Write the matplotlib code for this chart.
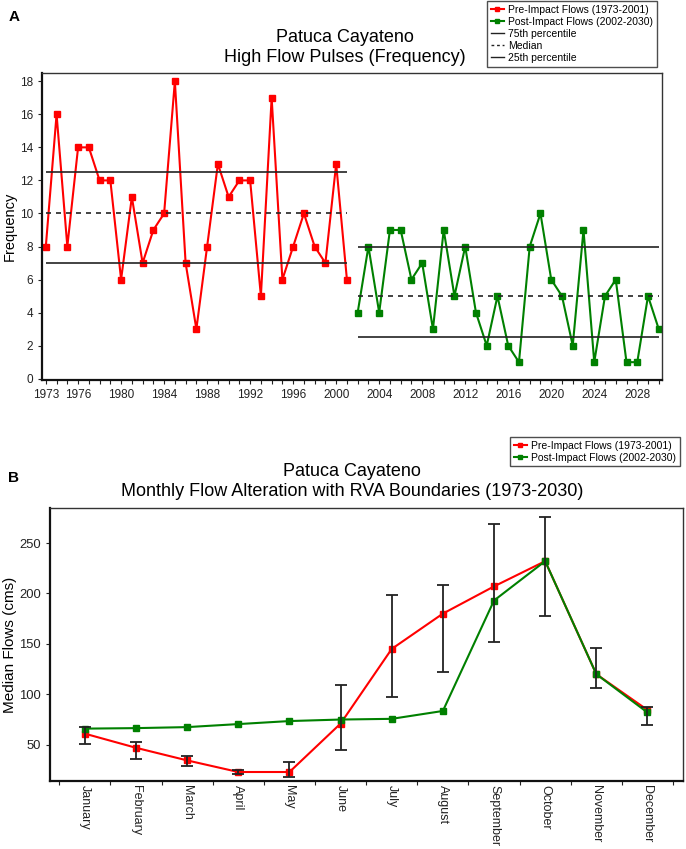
import numpy as np
import matplotlib
matplotlib.use("Agg")
import matplotlib.pyplot as plt
from matplotlib.lines import Line2D

plt.rcParams['font.family'] = ['Liberation Sans', 'DejaVu Sans']

# Panel A data
pre_years = list(range(1973, 2002))
pre_freq = [8, 16, 8, 14, 14, 12, 12, 6, 11, 7, 9, 10, 18, 7, 3, 8, 13, 11, 12, 12,
            5, 17, 6, 8, 10, 8, 7, 13, 6]
post_years = list(range(2002, 2031))
post_freq = [4, 8, 4, 9, 9, 6, 7, 3, 9, 5, 8, 4, 2, 5, 2, 1, 8, 10, 6, 5,
             2, 9, 1, 5, 6, 1, 1, 5, 3]
pre_pct = {'75': 12.5, 'med': 10, '25': 7}
post_pct = {'75': 8, 'med': 5, '25': 2.5}
year_labels = [1973, 1976, 1980, 1984, 1988, 1992, 1996, 2000, 2004, 2008, 2012,
               2016, 2020, 2024, 2028]

# Panel B data
months = ['January', 'February', 'March', 'April', 'May', 'June', 'July',
          'August', 'September', 'October', 'November', 'December']
pre_monthly = [61, 47, 34.5, 23, 23, 71, 145, 180, 207, 232, 120, 84.5]
post_monthly = [66, 66.5, 67.5, 70.5, 73.5, 75, 75.7, 83.5, 193, 232, 120, 82]
rva_low = [50.7, 35.8, 29, 20.6, 17.6, 45, 97, 122.6, 152.3, 177.7, 106, 69.8]
rva_high = [67.5, 52.7, 38.5, 25.2, 32.5, 109.7, 198, 208.7, 269, 275.4, 146.3, 87.3]

RED = '#ff0000'
GREEN = '#008000'

fig = plt.figure(figsize=(6.86, 8.49), dpi=100)


def style_axes(ax, size):
    for s in ['left', 'bottom']:
        ax.spines[s].set_linewidth(1.6)
        ax.spines[s].set_color('#111111')
    for s in ['top', 'right']:
        ax.spines[s].set_linewidth(1.0)
        ax.spines[s].set_color('#333333')
    ax.tick_params(direction='out', length=3, width=0.8, labelsize=size, colors='#222222')


legend_kw = dict(loc='upper right', fontsize=7.5, frameon=True, fancybox=False,
                 edgecolor='#222222', handlelength=1.3, handletextpad=0.4,
                 borderpad=0.35, labelspacing=0.2, borderaxespad=0)

# ---------- Panel A ----------
axA = fig.add_axes([0.061, 0.552, 0.904, 0.362])
axA.plot(pre_years, pre_freq, color=RED, marker='s', markersize=4.5, lw=1.5)
axA.plot(post_years, post_freq, color=GREEN, marker='s', markersize=4.5, lw=1.5)
for yrs, p in [(pre_years, pre_pct), (post_years, post_pct)]:
    axA.hlines(p['75'], yrs[0], yrs[-1], colors='#222222', lw=1.2)
    axA.hlines(p['med'], yrs[0], yrs[-1], colors='#222222', lw=1.2, linestyles=(0, (3, 3)))
    axA.hlines(p['25'], yrs[0], yrs[-1], colors='#222222', lw=1.2)
axA.set_xlim(1972.63, 2030.3)
axA.set_ylim(-0.1, 18.5)
axA.set_yticks(range(0, 19, 2))
axA.set_xticks(year_labels)
axA.set_xticks(range(1973, 2031), minor=True)
axA.set_ylabel('Frequency', fontsize=10.5, labelpad=2)
style_axes(axA, 8.5)
axA.tick_params(axis='x', which='minor', length=3, width=0.8, colors='#222222')

fig.text(345 / 686, 1 - 38 / 849, 'Patuca Cayateno', ha='center', va='center', fontsize=13)
fig.text(345 / 686, 1 - 57 / 849, 'High Flow Pulses (Frequency)', ha='center', va='center', fontsize=13)
fig.text(14 / 686, 1 - 17 / 849, 'A', ha='center', va='center', fontsize=11, fontweight='bold')

handlesA = [
    Line2D([], [], color=RED, marker='s', markersize=3.5, lw=1.5),
    Line2D([], [], color=GREEN, marker='s', markersize=3.5, lw=1.5),
    Line2D([], [], color='#222222', lw=1),
    Line2D([], [], color='#222222', lw=1, ls=(0, (2, 2))),
    Line2D([], [], color='#222222', lw=1),
]
labelsA = ['Pre-Impact Flows (1973-2001)', 'Post-Impact Flows (2002-2030)',
           '75th percentile', 'Median', '25th percentile']
legA = fig.legend(handlesA, labelsA, bbox_to_anchor=(657 / 686, 1 - 1 / 849), **legend_kw)
legA.get_frame().set_linewidth(1.0)

# ---------- Panel B ----------
axB = fig.add_axes([0.073, 0.080, 0.923, 0.322])
x = np.arange(len(months))
axB.plot(x, pre_monthly, color=RED, marker='s', markersize=4.5, lw=1.5, zorder=3)
axB.plot(x, post_monthly, color=GREEN, marker='s', markersize=4.5, lw=1.5, zorder=3)
mid = (np.array(rva_low) + np.array(rva_high)) / 2
err = (np.array(rva_high) - np.array(rva_low)) / 2
axB.errorbar(x, mid, yerr=err, fmt='none', ecolor='#222222', elinewidth=1.3,
             capsize=4, capthick=1.3, zorder=4)
axB.set_xlim(-0.68, 11.7)
axB.set_ylim(14, 285)
axB.set_yticks([50, 100, 150, 200, 250])
axB.set_xticks(x)
axB.set_xticklabels(months, rotation=270)
axB.set_xticks(np.arange(-0.5, 12, 1), minor=True)
axB.set_ylabel('Median Flows (cms)', fontsize=11, labelpad=2)
style_axes(axB, 9.4)
axB.tick_params(axis='x', which='major', length=0, pad=3, labelsize=9)
axB.tick_params(axis='x', which='minor', length=3, width=0.8, colors='#222222')

fig.text(352 / 686, 1 - 472 / 849, 'Patuca Cayateno', ha='center', va='center', fontsize=13)
fig.text(352 / 686, 1 - 492 / 849, 'Monthly Flow Alteration with RVA Boundaries (1973-2030)',
         ha='center', va='center', fontsize=13)
fig.text(14 / 686, 1 - 478 / 849, 'B', ha='center', va='center', fontsize=11, fontweight='bold')

legB = fig.legend(handlesA[:2], labelsA[:2], bbox_to_anchor=(680 / 686, 1 - 437 / 849), **legend_kw)
legB.get_frame().set_linewidth(1.0)

fig.savefig('out.png', dpi=100)
